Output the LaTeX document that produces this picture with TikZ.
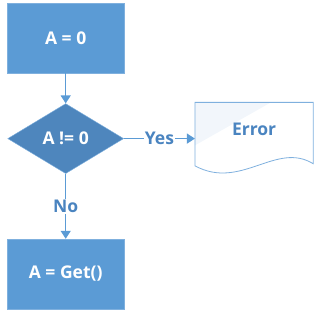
\documentclass[tikz,border=0pt]{standalone}
\usepackage{fontspec}
\setmainfont{Open Sans}
\usetikzlibrary{positioning,arrows.meta,shapes.geometric,calc}
\definecolor{boxblue}{HTML}{5B9BD5}
\definecolor{diablue}{HTML}{4E86BD}
\definecolor{edgeblue}{HTML}{7FB0DE}
\definecolor{textblue}{HTML}{4A84C0}
\definecolor{paleblue}{HTML}{F2F6FB}

\begin{document}
\begin{tikzpicture}[
    font=\fontsize{17.5}{20}\selectfont\bfseries,
    box/.style={draw=edgeblue, fill=boxblue, text=white, minimum width=117pt, minimum height=70pt, inner sep=0pt},
    decision/.style={diamond, draw=edgeblue, fill=diablue, text=white, aspect=1.66, minimum width=116pt, minimum height=70pt, inner sep=0pt},
    doc/.style={minimum width=118pt, minimum height=72pt, inner sep=0pt, text=textblue},
    arr/.style={-{Triangle[length=8pt,width=10pt]}, draw=boxblue, line width=1.3pt},
    lbl/.style={fill=white, text=textblue, inner sep=1pt},
    node distance=30pt and 71pt
]
\node[box] (start) {A = 0};
\node[decision, below=of start] (check) {A != 0};
\node[box, below=65pt of check] (get) {A = Get()};
\node[doc, right=of check] (err) {};

% document outline with wavy bottom
\fill[paleblue] (err.north west) -- ++(76pt,0) -- ([yshift=-43pt]err.north west) -- cycle;
\draw[edgeblue, line width=0.8pt] (err.north west) -- (err.north east)
    -- ([yshift=11pt]err.south east)
    .. controls +(-37pt,23pt) and +(46pt,-25pt) .. ([yshift=9pt]err.south west) -- cycle;
\node[text=textblue] at ([yshift=9pt]err.center) (errtxt) {Error};

\draw[arr] (start) -- (check);
\draw[arr] (check) -- node[lbl]{Yes} (err);
\draw[arr] (check) -- node[lbl, pos=0.5]{No} (get);

\useasboundingbox ([xshift=-7pt,yshift=3pt]start.north west) rectangle ++(313pt,-318pt);
\end{tikzpicture}
\end{document}
